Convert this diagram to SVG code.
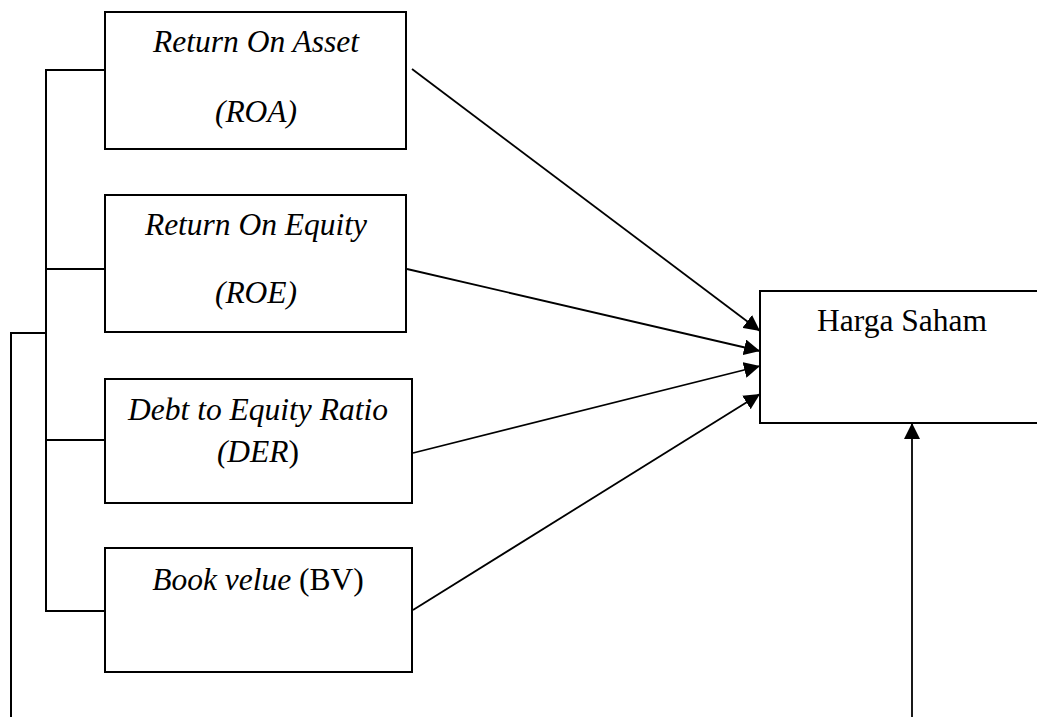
<svg xmlns="http://www.w3.org/2000/svg" width="1037" height="717" viewBox="0 0 1037 717">
<style>
.box{fill:#fff;stroke:#000;stroke-width:2}
.ln{fill:none;stroke:#000;stroke-width:2}
.ar{fill:none;stroke:#000;stroke-width:1.8}
.t{font-family:"Liberation Serif","Times New Roman",serif;font-size:31.5px;fill:#000;text-anchor:middle}
.i{font-style:italic}
</style>
<defs>
<marker id="ah" markerUnits="userSpaceOnUse" markerWidth="17" markerHeight="16" refX="16" refY="8" orient="auto">
<path d="M0,0 L16,8 L0,16 z" fill="#000"/>
</marker>
</defs>
<rect width="1037" height="717" fill="#fff"/>
<g id="connectors">
<polyline class="ln" points="105,70 46,70 46,611 105,611"/>
<line class="ln" x1="46" y1="269" x2="105" y2="269"/>
<line class="ln" x1="46" y1="440" x2="105" y2="440"/>
<polyline class="ln" points="46,333 11,333 11,717"/>
<line class="ar" x1="412" y1="69" x2="760" y2="331" marker-end="url(#ah)"/>
<line class="ar" x1="407" y1="269" x2="760" y2="351" marker-end="url(#ah)"/>
<line class="ar" x1="413" y1="453" x2="760" y2="366" marker-end="url(#ah)"/>
<line class="ar" x1="413" y1="610" x2="760" y2="394" marker-end="url(#ah)"/>
<line class="ar" x1="912" y1="717" x2="912" y2="423" marker-end="url(#ah)"/>
</g>
<g id="roa">
<rect class="box" x="105" y="12" width="301" height="137"/>
<text class="t i" x="256" y="52">Return On Asset</text>
<text class="t i" x="256" y="122">(ROA)</text>
</g>
<g id="roe">
<rect class="box" x="105" y="195" width="301" height="137"/>
<text class="t i" x="256" y="235">Return On Equity</text>
<text class="t i" x="256" y="303">(ROE)</text>
</g>
<g id="der">
<rect class="box" x="105" y="379" width="307" height="124"/>
<text class="t i" x="258" y="420">Debt to Equity Ratio</text>
<text class="t" x="258" y="462"><tspan class="i">(DER</tspan>)</text>
</g>
<g id="bv">
<rect class="box" x="105" y="548" width="307" height="124"/>
<text class="t" x="258" y="590"><tspan class="i">Book velue</tspan> (BV)</text>
</g>
<g id="harga">
<rect class="box" x="760" y="291" width="300" height="132"/>
<text class="t" x="902" y="331">Harga Saham</text>
</g>
</svg>
